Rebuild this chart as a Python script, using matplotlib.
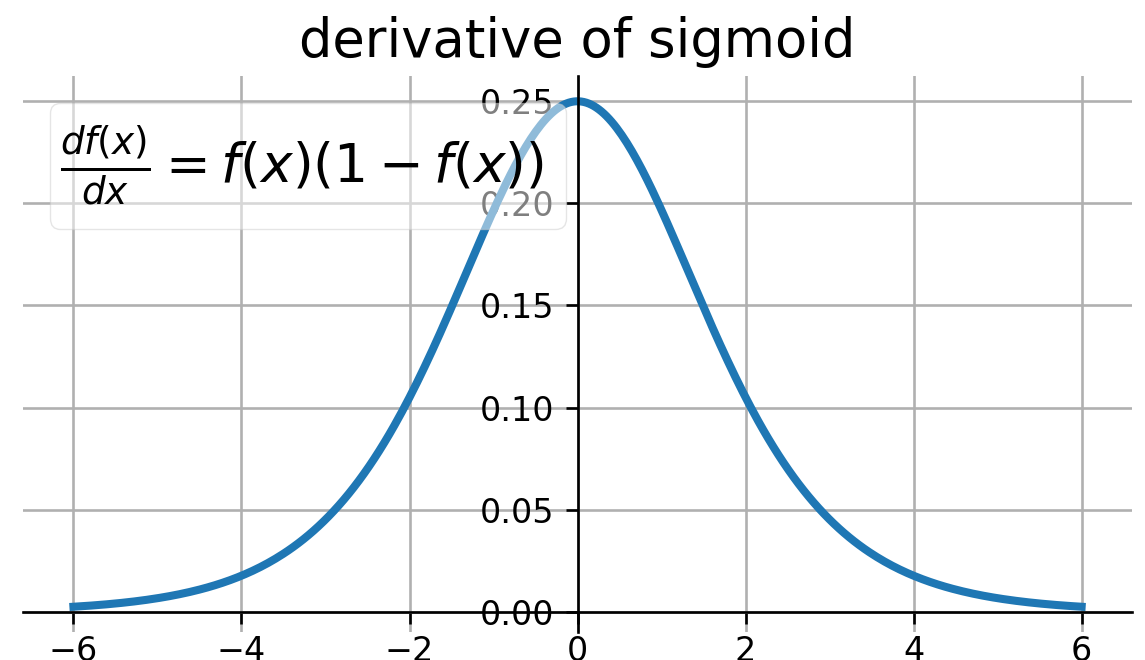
import numpy as np
import matplotlib.pyplot as plt

# x range and ticks
x_start, x_end = -6, 6
x_ticks = [-6, -4, -2, 0, 2, 4, 6]
y_ticks = [0.00, 0.05, 0.10, 0.15, 0.20, 0.25]


def sigmoid(x):
    return 1 / (1 + np.exp(-x))


x = np.linspace(x_start, x_end, 400)
f = sigmoid(x)
dfdx = f * (1 - f)

fig = plt.figure(figsize=(11.45, 6.6), dpi=100)
ax = fig.add_axes([0.0201, 0.0424, 0.9686, 0.8424])

ax.plot(x, dfdx, color='#1f77b4', lw=5.8,
        label=r'$\frac{df(x)}{dx} = f(x)(1-f(x))$')

ax.spines['left'].set_position('zero')
ax.spines['bottom'].set_position('zero')
ax.spines['right'].set_visible(False)
ax.spines['top'].set_visible(False)
for s in ['left', 'bottom']:
    ax.spines[s].set_linewidth(1.9)

ax.set_xticks(x_ticks)
ax.set_yticks(y_ticks)
ax.set_xticklabels([str(t).replace('-', '\u2212') for t in x_ticks])
ax.set_yticklabels(['%.2f' % t for t in y_ticks])
ax.tick_params(labelsize=24, length=8.4, width=1.9, pad=8.4)
ax.grid(True, color='#b0b0b0', lw=1.9)

ax.set_title('derivative of sigmoid', fontsize=38, pad=14)
ax.legend(loc='upper left', fontsize=38.5, handlelength=0, handletextpad=-0.2,
          framealpha=0.5)

fig.savefig('out.png', dpi=100)
